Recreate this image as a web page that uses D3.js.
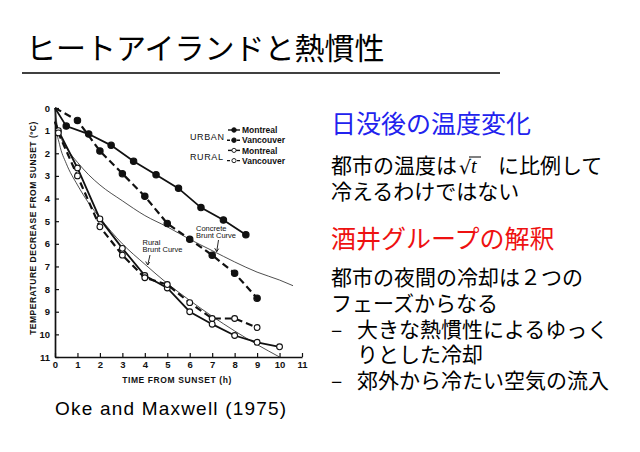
<!DOCTYPE html>
<html>
<head>
<meta charset="utf-8">
<script src="https://cdn.jsdelivr.net/npm/d3@7"></script>
<style>
  html, body { margin: 0; padding: 0; background: #fff; }
  svg { display: block; }
</style>
</head>
<body>
<script>
// --- data (hours after sunset, temperature decrease in degC)
var urbanMtlHours = [0, 0.5, 1.5, 2.5, 3.5, 4.5, 5.5, 6.5, 7.5, 8.5];
var urbanMtlDrop  = [0, 0.8, 1.15, 1.65, 2.35, 2.95, 3.55, 4.4, 4.95, 5.6];

var urbanVanHours = [0, 1, 2, 3, 4, 5, 6, 7, 8, 9];
var urbanVanDrop  = [0, 0.55, 1.9, 2.9, 3.9, 5.1, 5.8, 6.5, 7.3, 8.4];

var ruralMtlHours = [0, 0.15, 1, 2, 3, 4, 5, 6, 7, 8, 9, 10];
var ruralMtlDrop  = [0.6, 1.0, 2.65, 4.9, 6.2, 7.4, 7.95, 9.0, 9.55, 10.05, 10.35, 10.55];

var ruralVanHours = [0, 0.15, 1, 2, 3, 4, 5, 6, 7, 8, 9];
var ruralVanDrop  = [0.6, 1.1, 3.0, 5.25, 6.5, 7.5, 7.8, 8.6, 9.3, 9.3, 9.7];

var concreteHours = [0, 0.1, 0.3, 0.6, 1, 1.5, 2, 3, 4, 5, 6, 7, 8, 9, 10, 10.6];
var concreteDrop  = [0, 0.8, 1.4, 1.9, 2.4, 2.95, 3.4, 4.1, 4.75, 5.25, 5.8, 6.3, 6.8, 7.25, 7.6, 7.85];

var ruralBruntHours = [0, 0.05, 0.2, 0.5, 1, 1.5, 2, 3, 4, 5, 6, 7, 8, 9, 10];
var ruralBruntDrop  = [0, 0.8, 1.6, 2.45, 3.4, 4.2, 4.85, 6.0, 6.9, 7.75, 8.5, 9.2, 9.85, 10.45, 11.0];

var xTicks = [0, 1, 2, 3, 4, 5, 6, 7, 8, 9, 10, 11];
var yTicks = [0, 1, 2, 3, 4, 5, 6, 7, 8, 9, 10, 11];

var legendGroups = ["URBAN", "RURAL"];
var legendCities = ["Montreal", "Vancouver", "Montreal", "Vancouver"];

var titleText = "ヒートアイランドと熱慣性";
var heading1 = "日没後の温度変化";
var heading2 = "酒井グループの解釈";
var block2Lines = ["都市の夜間の冷却は２つの", "フェーズからなる", "大きな熱慣性によるゆっく", "りとした冷却", "郊外から冷たい空気の流入"];
var caption = "Oke and Maxwell (1975)";

function zipPts(hs, vs) {
    return hs.map(function(h, i) { return {h: h, v: vs[i]}; });
}

var W = 640, H = 452;
var jp = "'Noto Sans CJK JP', 'Noto Sans', sans-serif";
var figFont = "'Liberation Sans', Arial, sans-serif";
var ink = "#111";

var svg = d3.select("body").append("svg")
    .attr("width", W)
    .attr("height", H);

svg.append("rect").attr("width", W).attr("height", H).attr("fill", "#fff");

// --- slide title
svg.append("text")
    .attr("x", 26).attr("y", 59)
    .style("font-family", jp).style("font-size", "30px")
    .attr("fill", "#000")
    .text(titleText);

svg.append("line")
    .attr("x1", 22).attr("x2", 500).attr("y1", 73).attr("y2", 73)
    .attr("stroke", "#000").attr("stroke-width", 1.5);

// --- the figure
var x = d3.scaleLinear().domain([0, 11]).range([55, 302]);
var y = d3.scaleLinear().domain([0, 11]).range([108, 357]);

var fig = svg.append("g");

var yAxis = d3.axisLeft(y).tickValues(yTicks).tickSize(-4).tickPadding(5).tickSizeOuter(0);
var xAxis = d3.axisBottom(x).tickValues(xTicks).tickSize(-4).tickPadding(4).tickSizeOuter(0);

var gy = fig.append("g").attr("transform", "translate(" + x(0) + ",0)").call(yAxis);
var gx = fig.append("g").attr("transform", "translate(0," + y(11) + ")").call(xAxis);

[gx, gy].forEach(function(g) {
    g.select(".domain").attr("stroke", ink).attr("stroke-width", 1.7);
    g.selectAll(".tick line").attr("stroke", ink).attr("stroke-width", 1.2);
    g.selectAll(".tick text")
        .attr("fill", ink)
        .style("font-family", figFont)
        .style("font-size", "9.5px")
        .style("font-weight", "bold");
});

fig.append("text")
    .attr("transform", "translate(33," + 228 + ") rotate(-90)")
    .attr("text-anchor", "middle")
    .attr("dy", "0.35em")
    .style("font-family", figFont).style("font-size", "8.5px").style("font-weight", "bold")
    .style("letter-spacing", "0.5px")
    .attr("fill", ink)
    .text("TEMPERATURE DECREASE FROM SUNSET (ºC)");

fig.append("text")
    .attr("x", 177).attr("y", 383)
    .attr("text-anchor", "middle")
    .style("font-family", figFont).style("font-size", "8.5px").style("font-weight", "bold")
    .style("letter-spacing", "0.6px")
    .attr("fill", ink)
    .text("TIME FROM SUNSET (h)");

var line = d3.line()
    .x(function(d) { return x(d.h); })
    .y(function(d) { return y(d.v); });

var smooth = d3.line()
    .curve(d3.curveMonotoneX)
    .x(function(d) { return x(d.h); })
    .y(function(d) { return y(d.v); });

// thin Brunt curves
[zipPts(concreteHours, concreteDrop), zipPts(ruralBruntHours, ruralBruntDrop)].forEach(function(pts) {
    fig.append("path")
        .attr("d", smooth(pts))
        .attr("fill", "none")
        .attr("stroke", "#222")
        .attr("stroke-width", 0.8);
});

var series = [
    {hs: urbanMtlHours, vs: urbanMtlDrop, dash: null, filled: true},
    {hs: urbanVanHours, vs: urbanVanDrop, dash: "7,4", filled: true},
    {hs: ruralMtlHours, vs: ruralMtlDrop, dash: null, filled: false},
    {hs: ruralVanHours, vs: ruralVanDrop, dash: "7,4", filled: false}
];

series.forEach(function(s) {
    var pts = zipPts(s.hs, s.vs);
    fig.append("path")
        .attr("d", line(pts))
        .attr("fill", "none")
        .attr("stroke", ink)
        .attr("stroke-width", s.dash ? 2.2 : 1.8);

    fig.select("path:last-child").attr("stroke-dasharray", s.dash);

    fig.selectAll(null)
        .data(pts.slice(1))
        .enter().append("circle")
        .attr("cx", function(d) { return x(d.h); })
        .attr("cy", function(d) { return y(d.v); })
        .attr("r", s.filled ? 3.2 : 2.9)
        .attr("fill", s.filled ? ink : "#fff")
        .attr("stroke", ink)
        .attr("stroke-width", 1.1);
});

// legend
var lg = fig.append("g");
legendGroups.forEach(function(name, i) {
    lg.append("text")
        .attr("x", 190).attr("y", 139.5 + i * 20.5)
        .style("font-family", figFont).style("font-size", "9px")
        .style("letter-spacing", "0.6px")
        .attr("fill", ink)
        .text(name);
});
legendCities.forEach(function(name, i) {
    var ly = 130 + i * 10.2;
    var s = series[i];
    lg.append("line")
        .attr("x1", s.dash ? 227 : 228).attr("x2", 240)
        .attr("y1", ly).attr("y2", ly)
        .attr("stroke", ink).attr("stroke-width", 1.4)
        .attr("stroke-dasharray", s.dash ? "3,2" : null);
    lg.append("circle")
        .attr("cx", 234).attr("cy", ly).attr("r", s.filled ? 2.3 : 2.1)
        .attr("fill", s.filled ? ink : "#fff")
        .attr("stroke", ink).attr("stroke-width", 0.9);
    lg.append("text")
        .attr("x", 242).attr("y", ly + 3.2)
        .style("font-family", figFont).style("font-size", "8.5px").style("font-weight", "bold")
        .attr("fill", ink)
        .text(name);
});

// curve labels with little arrows
function curveLabel(lines, lx, ly, ax1, ay1, ax2, ay2) {
    var t = fig.append("text")
        .style("font-family", figFont).style("font-size", "7.5px")
        .attr("fill", ink);
    lines.forEach(function(s, i) {
        t.append("tspan").attr("x", lx).attr("y", ly + i * 7.5).text(s);
    });
    fig.append("line")
        .attr("x1", ax1).attr("y1", ay1).attr("x2", ax2).attr("y2", ay2)
        .attr("stroke", ink).attr("stroke-width", 0.9);
    fig.append("path")
        .attr("d", "M" + (ax2 - 2) + "," + (ay2 - 3.5) + "L" + ax2 + "," + ay2 + "L" + (ax2 + 2) + "," + (ay2 - 3))
        .attr("fill", "none").attr("stroke", ink).attr("stroke-width", 0.9);
}
curveLabel(["Concrete", "Brunt Curve"], 196, 230.5, 218.5, 240, 216.7, 251.7);
curveLabel(["Rural", "Brunt Curve"], 142.5, 244.5, 150, 255, 147.7, 265);

svg.append("text")
    .attr("x", 55).attr("y", 415)
    .style("font-family", figFont).style("font-size", "19px")
    .style("letter-spacing", "1.2px")
    .attr("fill", "#000")
    .text(caption);

// --- right-hand text
svg.append("text")
    .attr("x", 331).attr("y", 133)
    .style("font-family", jp).style("font-size", "25px")
    .attr("fill", "#2222ee")
    .text(heading1);

var body = svg.append("g")
    .style("font-family", jp).style("font-size", "21px")
    .attr("fill", "#000");

body.append("text").attr("x", 331).attr("y", 173).text("都市の温度は");
// sqrt(t)
body.append("text").attr("x", 459).attr("y", 174)
    .style("font-family", "'DejaVu Serif', serif").style("font-size", "19px")
    .text("√");
body.append("line")
    .attr("x1", 469).attr("x2", 481).attr("y1", 157).attr("y2", 157)
    .attr("stroke", "#000").attr("stroke-width", 1);
body.append("text").attr("x", 471).attr("y", 173)
    .style("font-family", "'Liberation Serif', serif").style("font-style", "italic")
    .style("font-size", "20px")
    .text("t");
body.append("text").attr("x", 498).attr("y", 173).text("に比例して");
body.append("text").attr("x", 331).attr("y", 199).text("冷えるわけではない");

svg.append("text")
    .attr("x", 331).attr("y", 248)
    .style("font-family", jp).style("font-size", "25px")
    .attr("fill", "#ee1111")
    .text(heading2);

block2Lines.forEach(function(s, i) {
    var indent = i >= 2;
    var by = 285 + i * 25.8;
    if (i === 2 || i === 4) {
        body.append("text").attr("x", 331).attr("y", by).text("–");
    }
    body.append("text")
        .attr("x", indent ? 357 : 331)
        .attr("y", by)
        .text(s);
});
</script>
</body>
</html>
